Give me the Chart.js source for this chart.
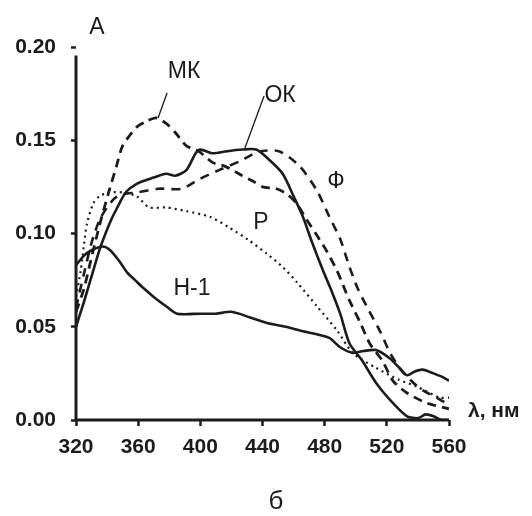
<!DOCTYPE html>
<html>
<head>
<meta charset="utf-8">
<script src="https://cdn.jsdelivr.net/npm/chart.js@4.4.1/dist/chart.umd.min.js"></script>
<style>
  html, body { margin: 0; padding: 0; background: #ffffff; }
  #wrap { width: 532px; height: 516px; }
</style>
</head>
<body>
<div id="wrap"><canvas id="c" width="532" height="516"></canvas></div>
<script>
// ---- data ----
const xTicks = [320, 360, 400, 440, 480, 520, 560];
const yTicks = [0.00, 0.05, 0.10, 0.15, 0.20];

const okNm = [320,325,330,335,339,343,346,352,360,370,378,384,391,397,400,408,416,427,436,445,453,460,466,472,479,485,490,496,504,513,524,533,540,545,550,555,560];
const okA  = [0.050,0.063,0.077,0.091,0.100,0.108,0.113,0.122,0.127,0.130,0.132,0.131,0.134,0.143,0.145,0.143,0.144,0.145,0.145,0.139,0.132,0.120,0.109,0.095,0.080,0.068,0.057,0.041,0.032,0.020,0.009,0.002,0.001,0.003,0.002,0.000,0.000];

const mkNm = [320,325,328.5,335,341,346,350,359,365,371.5,378,384,391,399,408,416,427,434,440,449,456,462,468,475,481,488,492,496,503,509,517,524,533,546,560];
const mkA  = [0.058,0.070,0.082,0.104,0.122,0.136,0.147,0.157,0.160,0.162,0.159,0.154,0.147,0.144,0.138,0.136,0.131,0.128,0.125,0.124,0.121,0.116,0.108,0.099,0.091,0.080,0.072,0.064,0.052,0.041,0.032,0.021,0.0145,0.009,0.006];

const fNm = [320,325,330,335,340,345,350,359,373,388,399,412,426,438,451,464,475,483,490,496,501,507,516,522,529,537,543,552,560];
const fA  = [0.060,0.078,0.095,0.107,0.114,0.119,0.121,0.122,0.124,0.124,0.129,0.134,0.139,0.144,0.144,0.136,0.123,0.109,0.097,0.082,0.071,0.061,0.047,0.036,0.027,0.020,0.016,0.012,0.008];

const pNm = [320,323,325,327,331,335,341,350,359,367,378,391,406,418,431,443,453,462,475,488,498,513,528,539,554,560];
const pA  = [0.066,0.080,0.093,0.105,0.116,0.120,0.122,0.122,0.120,0.114,0.114,0.112,0.109,0.1035,0.0965,0.089,0.082,0.074,0.061,0.048,0.036,0.028,0.0215,0.018,0.012,0.012];

const h1Nm = [320,325,330,337,342,348,353,358,363,370,378,385,400,410,420,432,443,455,464,475,483,490,498,505,513,522,528,533,538,543,550,556,560];
const h1A  = [0.083,0.088,0.091,0.093,0.091,0.085,0.079,0.075,0.071,0.066,0.061,0.057,0.057,0.057,0.058,0.055,0.052,0.050,0.048,0.046,0.044,0.039,0.036,0.037,0.0375,0.033,0.028,0.024,0.026,0.027,0.025,0.023,0.021];

const seriesNames = ['ОК', 'МК', 'Ф', 'Р', 'Н-1'];

// curve labels, in data units (nm, A)
const curveLabels = [
  { text: 'МК',  x: 389.5, y: 0.1866 },
  { text: 'ОК',  x: 451.3, y: 0.1737 },
  { text: 'Ф',   x: 487.3, y: 0.1280 },
  { text: 'Р',   x: 439.0, y: 0.1056 },
  { text: 'Н-1', x: 394.6, y: 0.0702 }
];
const leaders = [
  { x1: 378.6, y1: 0.1753, x2: 372.8, y2: 0.1619 },
  { x1: 441.0, y1: 0.1737, x2: 428.7, y2: 0.1458 }
];

// ---- build ----
const zip = (xs, ys) => xs.map((x, i) => ({ x: x, y: ys[i] }));
const INK = '#1c1c1c';
const FONT = "'Liberation Sans', Arial, sans-serif";

const decorations = {
  id: 'decorations',
  afterDatasetsDraw(chart) {
    const ctx = chart.ctx;
    const xs = chart.scales.x, ys = chart.scales.y;
    ctx.save();
    // axis lines
    ctx.strokeStyle = INK;
    ctx.lineWidth = 3;
    ctx.lineCap = 'butt';
    ctx.beginPath();
    ctx.moveTo(xs.getPixelForValue(320), ys.getPixelForValue(0.1955));
    ctx.lineTo(xs.getPixelForValue(320), ys.getPixelForValue(0) + 1.5);
    ctx.moveTo(xs.getPixelForValue(320) - 1.5, ys.getPixelForValue(0));
    ctx.lineTo(xs.getPixelForValue(560), ys.getPixelForValue(0));
    ctx.stroke();
    // leaders
    ctx.lineWidth = 1.3;
    leaders.forEach(l => {
      ctx.beginPath();
      ctx.moveTo(xs.getPixelForValue(l.x1), ys.getPixelForValue(l.y1));
      ctx.lineTo(xs.getPixelForValue(l.x2), ys.getPixelForValue(l.y2));
      ctx.stroke();
    });
    // curve labels
    ctx.fillStyle = INK;
    ctx.textAlign = 'center';
    ctx.textBaseline = 'middle';
    ctx.font = '500 23px ' + FONT;
    curveLabels.forEach(l => {
      ctx.fillText(l.text, xs.getPixelForValue(l.x), ys.getPixelForValue(l.y));
    });
    // axis titles
    ctx.font = '23px ' + FONT;
    ctx.fillText('A', 97, 28);
    ctx.font = 'bold 21px ' + FONT;
    ctx.textAlign = 'left';
    ctx.fillText('λ, нм', 468, 411);
    ctx.textAlign = 'center';
    ctx.font = '26px ' + FONT;
    ctx.fillText('б', 276, 502);
    ctx.restore();
  }
};

const common = { fill: false, pointRadius: 0, borderColor: INK, tension: 0.25, borderCapStyle: 'butt' };

new Chart(document.getElementById('c'), {
  type: 'line',
  data: {
    datasets: [
      Object.assign({}, common, { label: seriesNames[0], data: zip(okNm, okA), borderWidth: 2.6 }),
      Object.assign({}, common, { label: seriesNames[1], data: zip(mkNm, mkA), borderWidth: 2.8, borderDash: [9, 6] }),
      Object.assign({}, common, { label: seriesNames[2], data: zip(fNm, fA), borderWidth: 2.6, borderDash: [9, 7] }),
      Object.assign({}, common, { label: seriesNames[3], data: zip(pNm, pA), borderWidth: 2.2, borderDash: [2, 4] }),
      Object.assign({}, common, { label: seriesNames[4], data: zip(h1Nm, h1A), borderWidth: 2.6 })
    ]
  },
  options: {
    responsive: false,
    animation: false,
    layout: { padding: { top: 47, right: 83, left: 0, bottom: 46 } },
    plugins: { legend: { display: false }, tooltip: { enabled: false } },
    scales: {
      x: {
        type: 'linear',
        min: 320, max: 560,
        afterBuildTicks: s => { s.ticks = xTicks.map(v => ({ value: v })); },
        afterFit: s => { s.height = 50; },
        border: { display: false },
        grid: { drawOnChartArea: false, drawTicks: true, tickLength: 6, tickWidth: 2.5, tickColor: INK, color: INK },
        ticks: { color: INK, padding: 9, maxRotation: 0, font: { family: FONT, size: 21, weight: 'bold' },
                 callback: v => String(v) }
      },
      y: {
        type: 'linear',
        min: 0, max: 0.2,
        afterBuildTicks: s => { s.ticks = yTicks.map(v => ({ value: v })); },
        afterFit: s => { s.width = 76; },
        border: { display: false },
        grid: { drawOnChartArea: false, drawTicks: true, tickLength: 5, tickWidth: 2.5, tickColor: INK, color: INK },
        ticks: { color: INK, padding: 15, font: { family: FONT, size: 21, weight: 'bold' },
                 callback: v => Number(v).toFixed(2) }
      }
    }
  },
  plugins: [decorations]
});
</script>
</body>
</html>
